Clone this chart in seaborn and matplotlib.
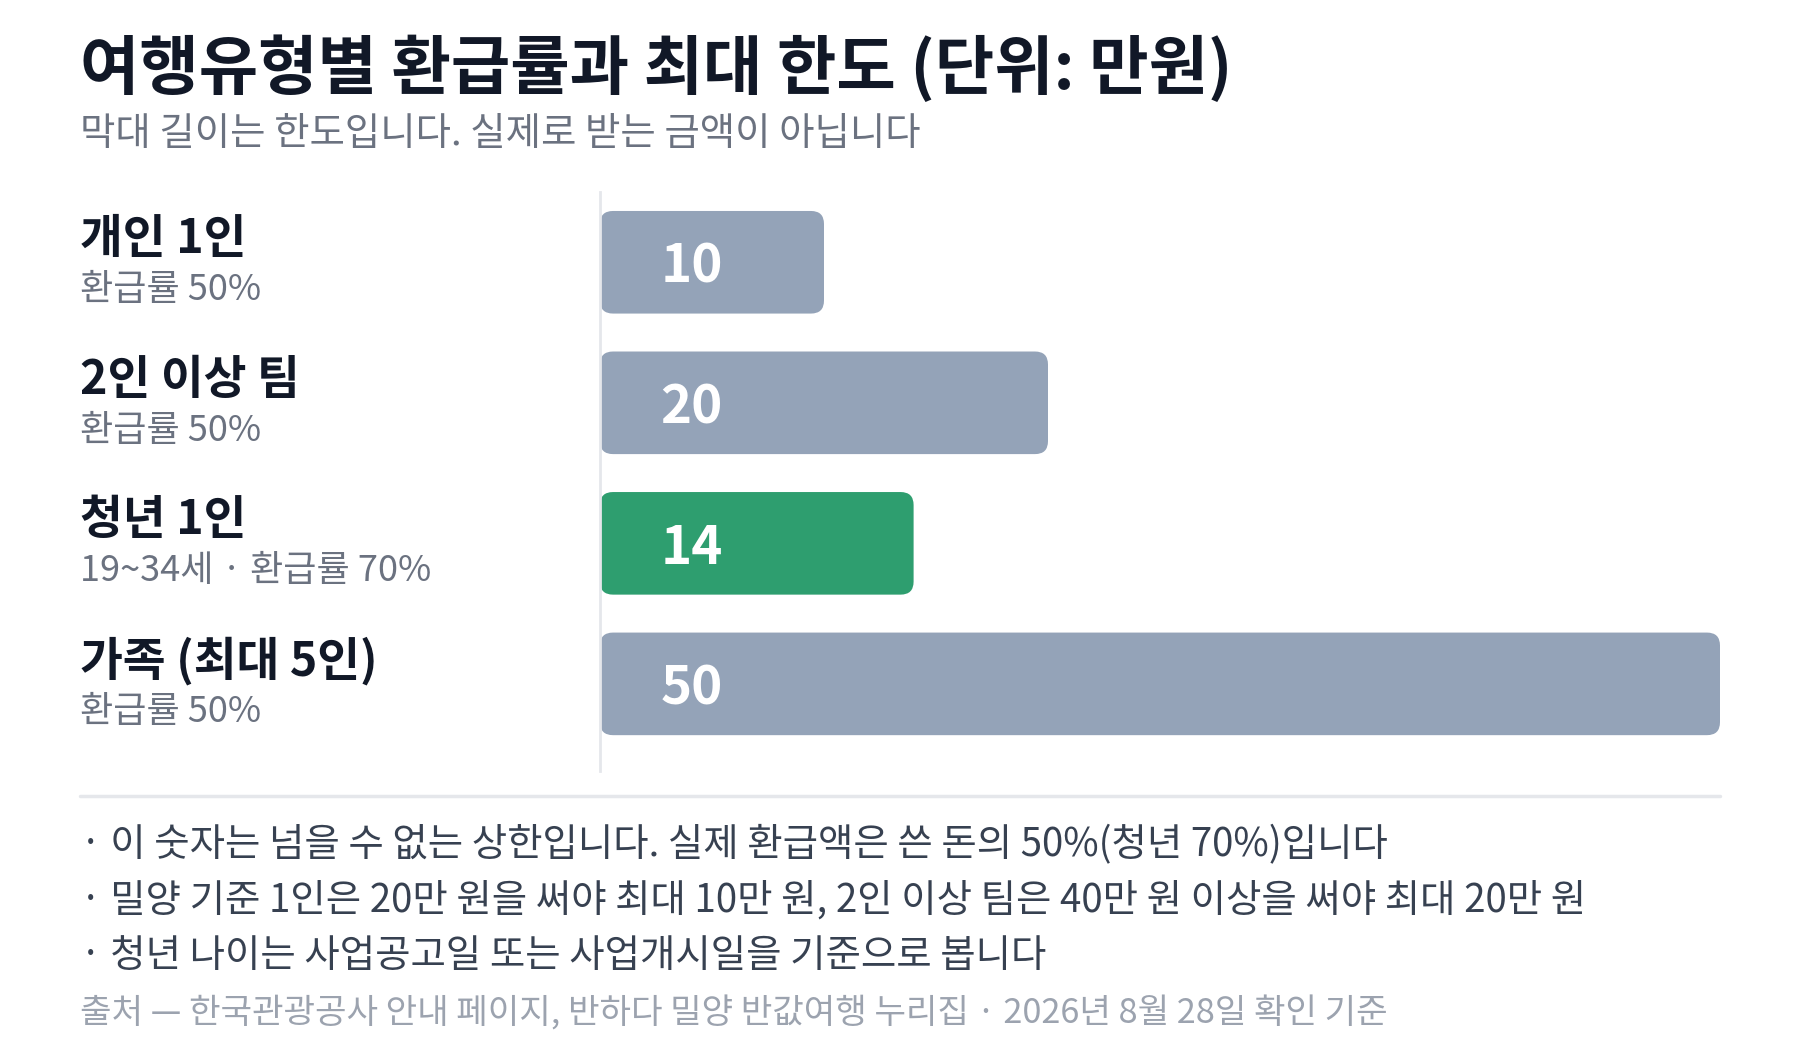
import matplotlib
matplotlib.use("Agg")
import matplotlib.pyplot as plt
import seaborn as sns
from matplotlib.patches import FancyBboxPatch
from matplotlib.lines import Line2D
from matplotlib.transforms import blended_transform_factory

## data
types = ["개인 1인", "2인 이상 팀", "청년 1인", "가족 (최대 5인)"]
details = ["환급률 50%", "환급률 50%", "19~34세 · 환급률 70%", "환급률 50%"]
limits = [10, 20, 14, 50]
bar_colors = ["#94a3b8", "#94a3b8", "#2e9e6f", "#94a3b8"]

title = "여행유형별 환급률과 최대 한도 (단위: 만원)"
subtitle = "막대 길이는 한도입니다. 실제로 받는 금액이 아닙니다"
notes = [
    "· 이 숫자는 넘을 수 없는 상한입니다. 실제 환급액은 쓴 돈의 50%(청년 70%)입니다",
    "· 밀양 기준 1인은 20만 원을 써야 최대 10만 원, 2인 이상 팀은 40만 원 이상을 써야 최대 20만 원",
    "· 청년 나이는 사업공고일 또는 사업개시일을 기준으로 봅니다",
]
source = "출처 — 한국관광공사 안내 페이지, 반하다 밀양 반값여행 누리집 · 2026년 8월 28일 확인 기준"

## style
sns.set_theme(style="white")
plt.rcParams["font.family"] = ["Noto Sans CJK KR", "DejaVu Sans"]

W, H = 1800, 1040
fig = plt.figure(figsize=(W / 100, H / 100), dpi=100)
fig.patch.set_facecolor("white")

# plot area in pixels
ax_l, ax_r, ax_t, ax_b = 600, 1720, 192, 771
ax = fig.add_axes([ax_l / W, 1 - ax_b / H, (ax_r - ax_l) / W, (ax_b - ax_t) / H])

df_rows = {"type": types, "limit": limits}
sns.barplot(x=df_rows["limit"], y=df_rows["type"], hue=df_rows["type"],
            palette=bar_colors, saturation=1, legend=False, width=0.73,
            orient="h", ax=ax)

xmax = 50
ylo, yhi = -0.5, 3.62
ax.set_xlim(0, xmax)
ax.set_ylim(yhi, ylo)

## swap plain bars for rounded ones
px_x = (ax_r - ax_l) / xmax
px_y = (ax_b - ax_t) / (yhi - ylo)
radius_px = 13
aspect = (radius_px / px_y) / (radius_px / px_x)
for p in list(ax.patches):
    x0, y0 = p.get_x(), p.get_y()
    w, h = p.get_width(), p.get_height()
    fc = p.get_facecolor()
    p.remove()
    ax.add_patch(FancyBboxPatch((x0, y0), w, h,
                                boxstyle=f"round,pad=0,rounding_size={radius_px / px_x}",
                                mutation_aspect=aspect, fc=fc, ec="none", zorder=2))

## value labels inside bars
for i, v in enumerate(limits):
    ax.text(2.7, i + 0.035, str(v), color="white", fontsize=38, fontweight="bold",
            va="center", ha="left", zorder=3)

ax.set_xticks([])
ax.set_yticks([])
ax.set_xlabel("")
ax.set_ylabel("")
for s in ["top", "right", "bottom"]:
    ax.spines[s].set_visible(False)
ax.spines["left"].set_color("#e5e7eb")
ax.spines["left"].set_linewidth(2)

## row labels on the left
trans = blended_transform_factory(fig.transFigure, ax.transData)
for i, (t, d) in enumerate(zip(types, details)):
    ax.text(80 / W, i - 0.165, t, transform=trans, fontsize=33.5, fontweight="bold",
            color="#111827", va="center", ha="left")
    ax.text(80 / W, i + 0.20, d, transform=trans, fontsize=26,
            color="#6b7280", va="center", ha="left")

## title block
fig.text(80 / W, 1 - 69 / H, title, fontsize=46.5, fontweight="bold",
         color="#111827", va="center", ha="left")
fig.text(80 / W, 1 - 134 / H, subtitle, fontsize=27.7, color="#6b7280",
         va="center", ha="left")

## separator and notes
fig.add_artist(Line2D([80 / W, 1720 / W], [1 - 796 / H] * 2, transform=fig.transFigure,
                      color="#e5e7eb", lw=2.5))
for k, n in enumerate(notes):
    fig.text(80 / W, 1 - (845 + k * 55.5) / H, n, fontsize=27.7, color="#374151",
             va="center", ha="left")
fig.text(80 / W, 1 - 1014 / H, source, fontsize=24.7, color="#9ca3af",
         va="center", ha="left")

fig.savefig("out.png", dpi=100)
